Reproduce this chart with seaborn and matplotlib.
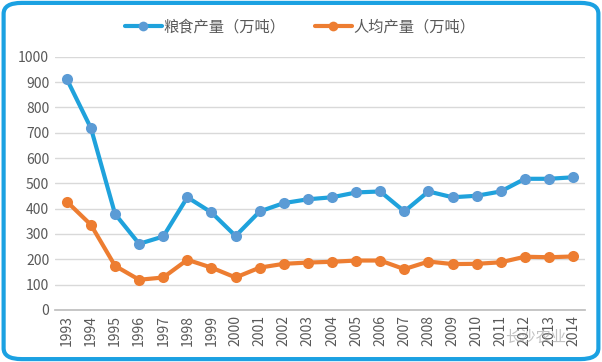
import matplotlib
matplotlib.use("Agg")
import matplotlib.pyplot as plt
import seaborn as sns
import pandas as pd
from matplotlib.patches import FancyBboxPatch

years = list(range(1993, 2015))
grain = [912, 718, 379, 261, 290, 445, 385, 292, 389, 422, 437, 445, 464, 468,
         389, 468, 445, 451, 468, 518, 518, 524]
per_capita = [428, 336, 174, 119, 128, 198, 167, 128, 167, 182, 187, 190, 195, 195,
              161, 191, 181, 182, 188, 210, 208, 211]
series_names = ["粮食产量（万吨）", "人均产量（万吨）"]

df = pd.DataFrame({
    "year": years * 2,
    "value": grain + per_capita,
    "series": [series_names[0]] * len(years) + [series_names[1]] * len(years),
})

sns.set_theme(style="white")
plt.rcParams['font.family'] = ['Noto Sans CJK SC', 'DejaVu Sans']

fig = plt.figure(figsize=(6.02, 3.62), dpi=100)
ax = fig.add_axes([0.091, 0.144, 0.881, 0.699])

palette = {series_names[0]: "#1FA2DC", series_names[1]: "#ED7D31"}
sns.lineplot(data=df, x="year", y="value", hue="series", palette=palette,
             marker="o", markersize=8, linewidth=3, markeredgewidth=0, ax=ax)

line_blue = ax.lines[0]
line_blue.set_markerfacecolor("#5B9BD5")
line_blue.set_markeredgecolor("#5B9BD5")

ax.set_xlim(1992.5, 2014.5)
ax.set_ylim(0, 1000)
ax.set_yticks(range(0, 1001, 100))
ax.set_xticks(years)
ax.set_xticklabels([str(y) for y in years], rotation=90)
ax.set_xlabel("")
ax.set_ylabel("")
ax.yaxis.grid(True, color="#D9D9D9", linewidth=1)
ax.set_axisbelow(True)
for s in ["top", "right", "left"]:
    ax.spines[s].set_visible(False)
ax.spines["bottom"].set_color("#BFBFBF")
ax.tick_params(axis="both", labelsize=10, colors="#595959", length=0, pad=4)

handles, labels = ax.get_legend_handles_labels()
for h in handles:
    h.set_markersize(7)
handles[0].set_markerfacecolor("#5B9BD5")
handles[0].set_markeredgecolor("#5B9BD5")
ax.legend(handles, labels, loc="upper center", bbox_to_anchor=(0.463, 1.205),
          ncol=2, frameon=False, fontsize=11, handlelength=2.4,
          columnspacing=1.9, handletextpad=0.15, labelcolor="#595959")

fig.text(0.89, 0.068, "长沙农业", fontsize=11, color="#9A9A9A", alpha=0.6,
         ha="center", va="center")

border = FancyBboxPatch((0.006, 0.008), 0.988, 0.984,
                        boxstyle="round,pad=0,rounding_size=0.03",
                        transform=fig.transFigure, fill=False,
                        edgecolor="#1BA1E2", linewidth=3, zorder=10)
fig.patches.append(border)

fig.savefig("out.png", dpi=100, facecolor="white")
